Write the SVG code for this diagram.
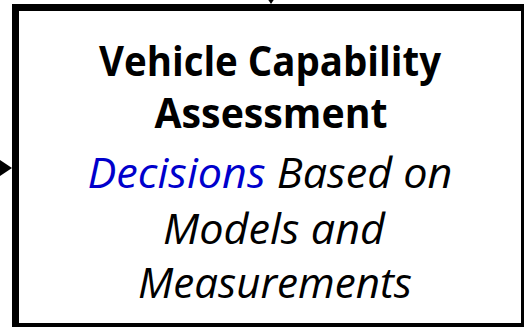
<svg xmlns="http://www.w3.org/2000/svg" width="524" height="327" viewBox="0 0 524 327">
  <style>
    .box { fill: #ffffff; stroke: #000000; stroke-width: 7; }
    .wire { stroke: #000000; stroke-width: 3; fill: none; }
    .head { fill: #000000; }
    text { font-family: "Open Sans", "Noto Sans", "DejaVu Sans", sans-serif; text-anchor: middle; fill: #000000; }
    .title { font-weight: bold; font-size: 42px; }
    .sub { font-style: italic; font-size: 42px; }
    .hl { fill: #0000cc; }
  </style>
  <rect width="524" height="327" fill="#ffffff"/>
  <g id="node-assessment">
    <rect class="box" x="15.5" y="7.5" width="509" height="319"/>
    <text class="title" x="270" y="76" textLength="342" lengthAdjust="spacingAndGlyphs">Vehicle Capability</text>
    <text class="title" x="271" y="128" textLength="233" lengthAdjust="spacingAndGlyphs">Assessment</text>
    <text class="sub" x="270" y="188" textLength="365" lengthAdjust="spacingAndGlyphs"><tspan class="hl">Decisions</tspan> Based on</text>
    <text class="sub" x="274" y="244" textLength="222" lengthAdjust="spacingAndGlyphs">Models and</text>
    <text class="sub" x="275" y="298" textLength="274" lengthAdjust="spacingAndGlyphs">Measurements</text>
  </g>
  <g id="connectors">
    <line class="wire" x1="271" y1="-20" x2="271" y2="-6"/>
    <polygon class="head" points="263,-8 279,-8 271,4"/>
    <line class="wire" x1="-20" y1="168" x2="-2" y2="168"/>
    <polygon class="head" points="0,160 0,176 12,168"/>
  </g>
</svg>
